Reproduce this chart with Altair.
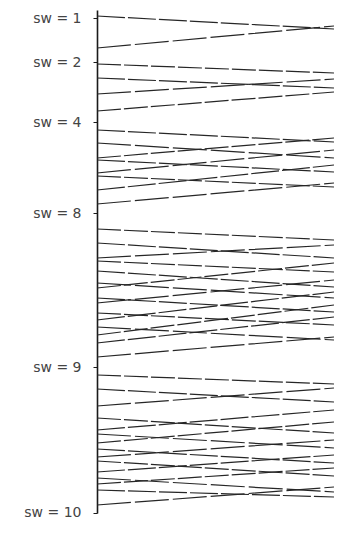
import altair as alt
import pandas as pd

# Axis labels and their positions on the vertical scale
level_labels = ["sw = 1", "sw = 2", "sw = 4", "sw = 8", "sw = 9", "sw = 10"]
level_pos = [18, 62, 122, 213, 367, 525]

# Each line: value at the left end and value at the right end
left_vals = [
    16, 48,
    64, 78, 94, 111,
    130, 143, 158, 160, 173, 176, 190, 204,
    229, 243, 258, 261, 271, 283, 288, 298, 303, 313, 320, 327, 335, 343, 357,
    375, 389, 406, 418, 430, 434, 443, 449, 457, 461, 472, 478, 484, 490, 505,
]
right_vals = [
    29, 26,
    73, 88, 79, 92,
    142, 158, 138, 172, 150, 187, 165, 183,
    240, 258, 245, 272, 287, 298, 263, 312, 280, 325, 292, 340, 305, 317, 337,
    384, 402, 388, 433, 410, 448, 422, 463, 440, 476, 455, 492, 468, 497, 487,
]

rows = []
for i, (a, b) in enumerate(zip(left_vals, right_vals)):
    rows.append({"line": i, "x": 0.0, "y": a, "pat": str(i % 3)})
    rows.append({"line": i, "x": 1.0, "y": b, "pat": str(i % 3)})
df = pd.DataFrame(rows)

expr = " : ".join(
    f"datum.value == {p} ? '{t}'" for p, t in zip(level_pos, level_labels)
) + " : ''"

chart = (
    alt.Chart(df)
    .mark_line(color="#262626", strokeWidth=1.2)
    .encode(
        x=alt.X("x:Q", scale=alt.Scale(domain=[0, 1], nice=False, zero=False), axis=None),
        y=alt.Y(
            "y:Q",
            scale=alt.Scale(domain=[10, 505, 526], range=[0, 495, 503], nice=False, zero=False),
            axis=alt.Axis(
                values=level_pos,
                labelExpr=expr,
                grid=False,
                title=None,
                domainColor="#1a1a1a",
                domainWidth=1.6,
                tickColor="#1a1a1a",
                tickSize=4,
                labelPadding=12,
                labelFont="DejaVu Sans",
                labelFontSize=14,
                labelColor="#444444",
                labelOverlap=False,
            ),
        ),
        detail="line:N",
        strokeDash=alt.StrokeDash(
            "pat:N",
            scale=alt.Scale(domain=["0", "1", "2"], range=[[28, 3], [34, 4], [24, 3]]),
            legend=None,
        ),
    )
    .properties(
        width=237,
        height=503,
        padding={"left": 89, "top": 2, "right": 0, "bottom": 7},
        autosize=alt.AutoSizeParams(type="none"),
    )
    .configure_view(stroke=None)
)

chart.save("out.html", embed_options={"renderer": "svg", "actions": False})
